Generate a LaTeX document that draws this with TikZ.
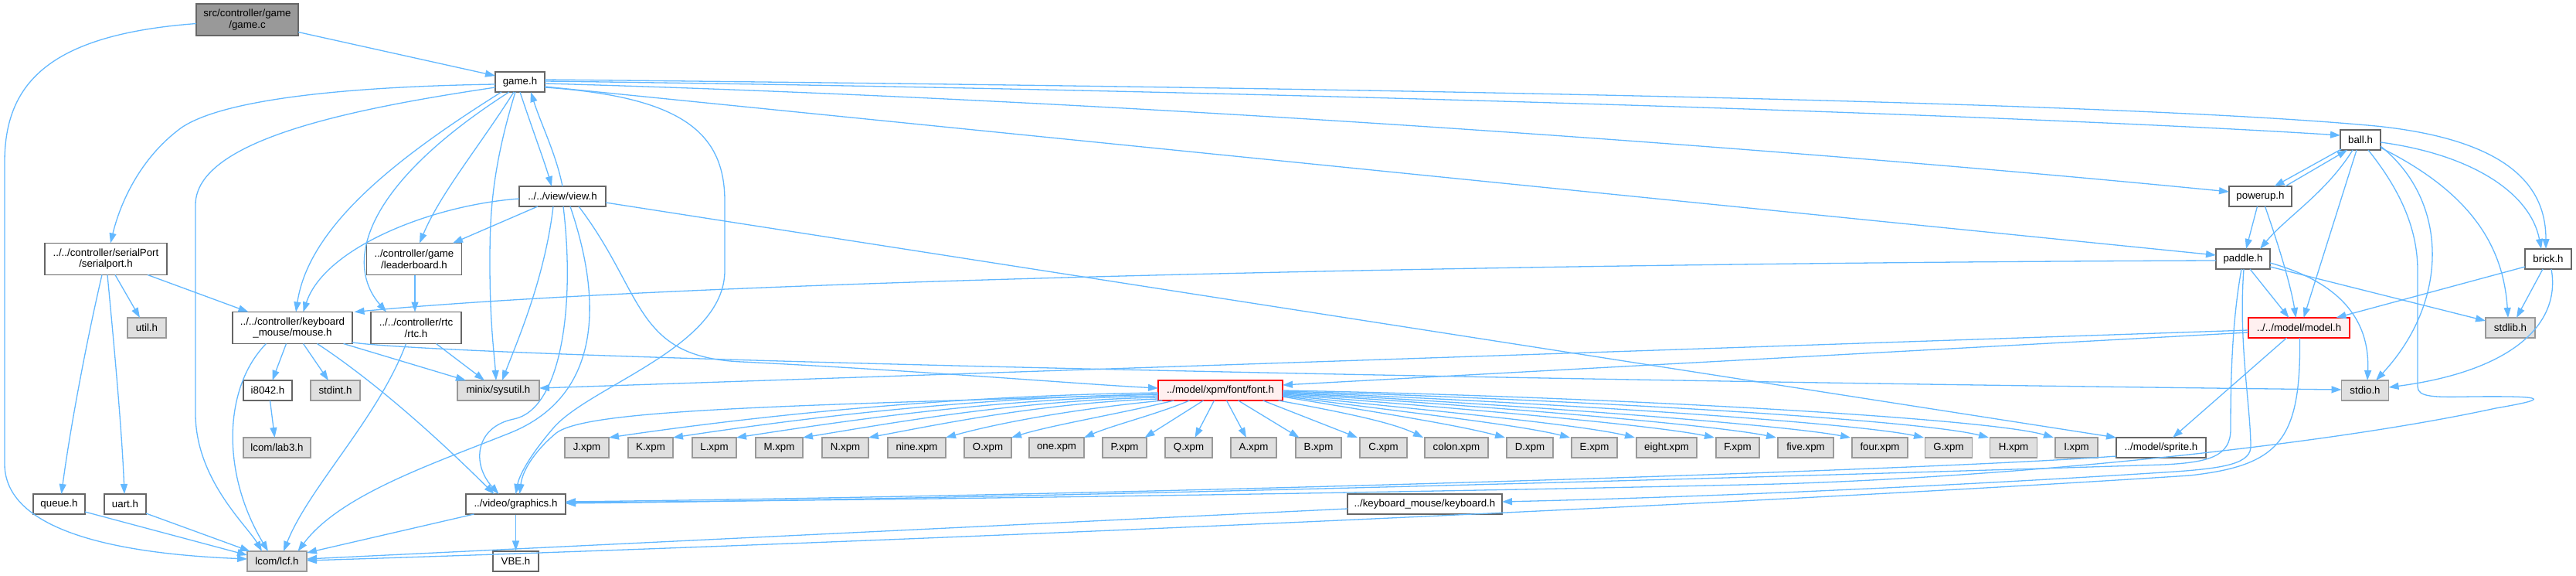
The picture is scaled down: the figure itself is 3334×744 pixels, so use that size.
\documentclass[tikz,border=0pt]{standalone}
\usepackage{fontspec}
\setmainfont{Liberation Sans}
\usetikzlibrary{arrows.meta,calc}
\definecolor{eblue}{HTML}{63B8FF}
\definecolor{bgrey}{HTML}{666666}
\definecolor{lgrey}{HTML}{999999}
\definecolor{efill}{HTML}{E0E0E0}
\definecolor{tfill}{HTML}{FFF0F0}
\newcommand\nfont{\fontsize{13.3pt}{14.5pt}\selectfont}
\tikzset{
  box/.style={draw=bgrey, fill=white, line width=1.3pt, inner sep=0pt, font=\nfont, align=center, minimum height=26pt},
  twoline/.style={minimum height=41pt},
  ext/.style={box, draw=lgrey, fill=efill},
  rootbox/.style={box, fill=lgrey},
  trunc/.style={box, draw=red, fill=tfill},
  edge/.style={draw=eblue, line width=1.3pt, -{Triangle[length=13pt,width=9pt]}},
}
\begin{document}
\begin{tikzpicture}[x=1pt,y=-1pt]
\useasboundingbox (0,0) rectangle (3334,744);
% nodes
\node[rootbox,twoline,minimum width=132pt] (gamec) at (320,25.5) {src/controller/game\\/game.c};
\node[box,minimum width=64pt] (gameh) at (673,106) {game.h};
\node[box,minimum width=112pt] (viewh) at (728,254) {../../view/view.h};
\node[box,twoline,minimum width=158pt] (serial) at (137,335) {../../controller/serialPort\\/serialport.h};
\node[box,twoline,minimum width=123pt] (leader) at (536,335) {../controller/game\\/leaderboard.h};
\node[box,twoline,minimum width=155pt] (mouse) at (378.5,424) {../../controller/keyboard\\\_mouse/mouse.h};
\node[box,twoline,minimum width=117pt] (rtc) at (538.5,424) {../../controller/rtc\\/rtc.h};
\node[ext,minimum width=50pt] (util) at (190,424) {util.h};
\node[box,minimum width=63pt] (i8042) at (346.5,505) {i8042.h};
\node[ext,minimum width=64pt] (stdint) at (434,505) {stdint.h};
\node[ext,minimum width=106pt] (sysutil) at (645,505) {minix/sysutil.h};
\node[ext,minimum width=87pt] (lab3) at (358.5,579) {lcom/lab3.h};
\node[box,minimum width=67pt] (queue) at (76.5,652) {queue.h};
\node[box,minimum width=54pt] (uart) at (162,652) {uart.h};
\node[box,minimum width=129pt] (graphics) at (667.5,652) {../video/graphics.h};
\node[ext,minimum width=77pt] (lcf) at (358.5,726) {lcom/lcf.h};
\node[box,minimum width=59pt] (vbe) at (667.5,726) {VBE.h};
\node[trunc,minimum width=161pt] (font) at (1579.5,505) {../model/xpm/font/font.h};
\node[box,minimum width=200pt] (keyboard) at (1844,652) {../keyboard\_mouse/keyboard.h};
\node[box,minimum width=116pt] (sprite) at (2797,579) {../model/sprite.h};
\node[trunc,minimum width=131pt] (model) at (2975.5,424) {../../model/model.h};
\node[ext,minimum width=64pt] (stdlib) at (3249,424) {stdlib.h};
\node[ext,minimum width=61pt] (stdio) at (3061,505) {stdio.h};
\node[box,minimum width=52pt] (ball) at (3055,181) {ball.h};
\node[box,minimum width=81pt] (powerup) at (2925.5,254) {powerup.h};
\node[box,minimum width=70pt] (paddle) at (2903,335) {paddle.h};
\node[box,minimum width=60pt] (brick) at (3298,335) {brick.h};
% xpm row
\node[ext,minimum width=57pt] (xJ) at (759.5,579) {J.xpm};
\node[ext,minimum width=58pt] (xK) at (842,579) {K.xpm};
\node[ext,minimum width=57pt] (xL) at (924.5,579) {L.xpm};
\node[ext,minimum width=61pt] (xM) at (1008.5,579) {M.xpm};
\node[ext,minimum width=60pt] (xN) at (1094,579) {N.xpm};
\node[ext,minimum width=75pt] (xnine) at (1186.5,579) {nine.xpm};
\node[ext,minimum width=61pt] (xO) at (1278.5,579) {O.xpm};
\node[ext,minimum width=71pt] (xone) at (1367.5,579) {one.xpm};
\node[ext,minimum width=57pt] (xP) at (1455.5,579) {P.xpm};
\node[ext,minimum width=61pt] (xQ) at (1538.5,579) {Q.xpm};
\node[ext,minimum width=59pt] (xA) at (1622.5,579) {A.xpm};
\node[ext,minimum width=59pt] (xB) at (1706.5,579) {B.xpm};
\node[ext,minimum width=61pt] (xC) at (1790.5,579) {C.xpm};
\node[ext,minimum width=82pt] (xcolon) at (1885,579) {colon.xpm};
\node[ext,minimum width=60pt] (xD) at (1980,579) {D.xpm};
\node[ext,minimum width=59pt] (xE) at (2063.5,579) {E.xpm};
\node[ext,minimum width=78pt] (xeight) at (2157,579) {eight.xpm};
\node[ext,minimum width=56pt] (xF) at (2249,579) {F.xpm};
\node[ext,minimum width=72pt] (xfive) at (2337,579) {five.xpm};
\node[ext,minimum width=72pt] (xfour) at (2433,579) {four.xpm};
\node[ext,minimum width=61pt] (xG) at (2522,579) {G.xpm};
\node[ext,minimum width=61pt] (xH) at (2606,579) {H.xpm};
\node[ext,minimum width=55pt] (xI) at (2687.5,579) {I.xpm};
% ---------------- edges ----------------
% game.c
\draw[edge] ($(gamec)+(66,16)$) -- ($(gameh)+(-32,-8)$);
\draw[edge] ($(gamec)+(-66,5)$) .. controls (60,45) and (6,110) .. (6,210) -- (6,600) .. controls (6,700) and (200,718) .. ($(lcf)+(-38.5,-3)$);
% game.h
\draw[edge] ($(gameh)+(-32,3)$) .. controls (450,112) and (290,128) .. (235,165) .. controls (180,205) and (155,265) .. ($(serial)+(6,-20.5)$);
\draw[edge] ($(gameh)+(-32,7)$) .. controls (460,140) and (253,180) .. (253,265) -- (253,535) .. controls (253,620) and (320,680) .. ($(lcf)+(-19.5,-13)$);
\draw[edge] ($(gameh)+(-24,13)$) .. controls (520,200) and (400,290) .. ($(mouse)+(4.5,-20.5)$);
\draw[edge] ($(gameh)+(-14,13)$) .. controls (470,240) and (445,340) .. ($(rtc)+(-38.5,-20.5)$);
\draw[edge] ($(gameh)+(-8,13)$) .. controls (620,190) and (570,250) .. ($(leader)+(7,-20.5)$);
\draw[edge] ($(gameh)+(-6,13)$) .. controls (636,220) and (634,280) .. (634,340) .. controls (634,420) and (640,460) .. ($(sysutil)+(-3,-13)$);
\draw[edge] ($(gameh)+(0,13)$) .. controls (690,170) and (705,210) .. ($(viewh)+(-14,-13)$);
\draw[edge] ($(viewh)+(0,-13)$) .. controls (720,200) and (700,160) .. ($(gameh)+(14,13)$);
\draw[edge] ($(gameh)+(32,7)$) .. controls (880,125) and (938,170) .. (938,260) -- (938,350) .. controls (938,450) and (760,500) .. (715,555) .. controls (685,590) and (672,615) .. ($(graphics)+(0,-13)$);
\draw[edge] ($(gameh)+(32,-3)$) .. controls (1600,112) and (2700,128) .. (3075,163) .. controls (3260,182) and (3295,250) .. ($(brick)+(-3,-13)$);
\draw[edge] ($(gameh)+(32,-1)$) .. controls (1600,116) and (2600,148) .. ($(ball)+(-26,-6)$);
\draw[edge] ($(gameh)+(32,2)$) .. controls (1500,130) and (2400,200) .. ($(powerup)+(-40.5,-6)$);
\draw[edge] ($(gameh)+(32,6)$) -- ($(paddle)+(-35,-5)$);
% view.h
\draw[edge] ($(viewh)+(-32,13)$) -- ($(leader)+(50,-20.5)$);
\draw[edge] ($(viewh)+(-56,3)$) .. controls (560,265) and (420,320) .. ($(mouse)+(14,-20.5)$);
\draw[edge] ($(viewh)+(-12,13)$) .. controls (705,360) and (670,440) .. ($(sysutil)+(5,-13)$);
\draw[edge] ($(viewh)+(1,13)$) .. controls (745,400) and (725,530) .. (665,542) .. controls (615,552) and (610,600) .. ($(graphics)+(-22,-13)$);
\draw[edge] ($(viewh)+(10,13)$) .. controls (790,420) and (760,520) .. (660,560) .. controls (560,600) and (440,640) .. ($(lcf)+(27,-13)$);
\draw[edge] ($(viewh)+(21,13)$) .. controls (835,380) and (820,462) .. (960,468) .. controls (1200,480) and (1400,497) .. ($(font)+(-80.5,-3)$);
\draw[edge] ($(viewh)+(56,8)$) -- ($(sprite)+(-58,-13)$);
% serialport.h
\draw[edge] ($(serial)+(12,20.5)$) -- ($(util)+(-9,-13)$);
\draw[edge] ($(serial)+(-5,20.5)$) .. controls (110,450) and (90,560) .. ($(queue)+(3,-13)$);
\draw[edge] ($(serial)+(2,20.5)$) .. controls (148,450) and (158,560) .. ($(uart)+(-1,-13)$);
\draw[edge] ($(serial)+(54,20.5)$) -- ($(mouse)+(-57,-20.5)$);
% leaderboard
\draw[edge] ($(leader)+(1,20.5)$) -- ($(rtc)+(-1.5,-20.5)$);
% mouse.h
\draw[edge] ($(mouse)+(-8,20.5)$) -- ($(i8042)+(6,-13)$);
\draw[edge] ($(mouse)+(14,20.5)$) -- ($(stdint)+(-9,-13)$);
\draw[edge] ($(mouse)+(66,20.5)$) -- ($(sysutil)+(-42,-13)$);
\draw[edge] ($(mouse)+(-34,20.5)$) .. controls (290,500) and (285,610) .. ($(lcf)+(-11.5,-13)$);
\draw[edge] ($(mouse)+(32,20.5)$) .. controls (480,490) and (560,560) .. ($(graphics)+(-28,-13)$);
\draw[edge] ($(mouse)+(77.5,19)$) .. controls (600,462) and (1800,490) .. ($(stdio)+(-30.5,-1)$);
% rtc.h
\draw[edge] ($(rtc)+(26,20.5)$) -- ($(sysutil)+(-18,-13)$);
\draw[edge] ($(rtc)+(-13,20.5)$) .. controls (490,540) and (400,630) .. ($(lcf)+(8.5,-13)$);
% misc
\draw[edge] ($(i8042)+(3,13)$) -- ($(lab3)+(-3,-13)$);
\draw[edge] ($(queue)+(33.5,10)$) -- ($(lcf)+(-38.5,-8)$);
\draw[edge] ($(uart)+(27,12)$) -- ($(lcf)+(-35,-13)$);
\draw[edge] ($(graphics)+(-54,13)$) -- ($(lcf)+(38.5,-11)$);
\draw[edge] (graphics.south) -- (vbe.north);
\draw[edge] ($(keyboard)+(-100,6)$) -- ($(lcf)+(38.5,-3)$);
% font.h
\draw[edge] ($(font)+(-80.5,5)$) .. controls (1000,525) and (760,530) .. (720,560) .. controls (690,585) and (676,610) .. ($(graphics)+(5,-13)$);
\draw[edge] ($(font)+(-80.5,3)$) .. controls (1215,512) and (965,540) .. ($(xJ)+(28.5,-13)$);
\draw[edge] ($(font)+(-80.5,5)$) .. controls (1250,514) and (1030,542) .. ($(xK)+(29,-13)$);
\draw[edge] ($(font)+(-80.5,7)$) .. controls (1280,516) and (1090,545) .. ($(xL)+(28.5,-13)$);
\draw[edge] ($(font)+(-80.5,9)$) .. controls (1315,518) and (1155,547) .. ($(xM)+(30.5,-13)$);
\draw[edge] ($(font)+(-80.5,11)$) .. controls (1350,521) and (1220,548) .. ($(xN)+(30,-13)$);
\draw[edge] ($(font)+(-75,13)$) .. controls (1400,528) and (1300,545) .. ($(xnine)+(37.5,-13)$);
\draw[edge] ($(font)+(-60,13)$) .. controls (1450,535) and (1360,550) .. ($(xO)+(30.5,-13)$);
\draw[edge] ($(font)+(-40,13)$) .. controls (1500,535) and (1440,550) .. ($(xone)+(35.5,-13)$);
\draw[edge] ($(font)+(-22,13)$) -- ($(xP)+(26,-13)$);
\draw[edge] ($(font)+(-8,13)$) -- ($(xQ)+(8,-13)$);
\draw[edge] ($(font)+(8,13)$) -- ($(xA)+(-9.5,-13)$);
\draw[edge] ($(font)+(23,13)$) -- ($(xB)+(-25,-13)$);
\draw[edge] ($(font)+(55,13)$) -- ($(xC)+(-33.5,-13)$);
\draw[edge] ($(font)+(75,13)$) .. controls (1720,530) and (1800,545) .. ($(xcolon)+(-43,-13)$);
\draw[edge] ($(font)+(80.5,8)$) .. controls (1760,530) and (1880,548) .. ($(xD)+(-32,-13)$);
\draw[edge] ($(font)+(80.5,7)$) .. controls (1790,530) and (1960,548) .. ($(xE)+(-31.5,-13)$);
\draw[edge] ($(font)+(80.5,6)$) .. controls (1820,528) and (2040,548) .. ($(xeight)+(-41,-13)$);
\draw[edge] ($(font)+(80.5,5)$) .. controls (1850,525) and (2130,548) .. ($(xF)+(-30,-13)$);
\draw[edge] ($(font)+(80.5,4)$) .. controls (1880,522) and (2210,548) .. ($(xfive)+(-38,-13)$);
\draw[edge] ($(font)+(80.5,3)$) .. controls (1910,520) and (2300,548) .. ($(xfour)+(-38,-13)$);
\draw[edge] ($(font)+(80.5,2)$) .. controls (1950,518) and (2390,545) .. ($(xG)+(-32,-13)$);
\draw[edge] ($(font)+(80.5,1)$) .. controls (2000,515) and (2480,542) .. ($(xH)+(-32,-13)$);
\draw[edge] ($(font)+(80.5,0)$) .. controls (2050,512) and (2570,540) .. ($(xI)+(-29.5,-13)$);
% model.h
\draw[edge] ($(model)+(-16,13)$) -- ($(sprite)+(15,-13)$);
\draw[edge] ($(model)+(-65.5,3)$) -- ($(sysutil)+(53,-3)$);
\draw[edge] ($(model)+(-65.5,6)$) -- ($(font)+(80.5,-7)$);
\draw[edge] ($(model)+(1,13)$) .. controls (2978,570) and (2950,602) .. (2834,615) .. controls (2300,650) and (1200,700) .. ($(lcf)+(38.5,-1)$);
% ball.h
\draw[edge] ($(ball)+(-25,12)$) -- ($(powerup)+(18,-13)$);
\draw[edge] ($(powerup)+(32,-13)$) -- ($(ball)+(-17,13)$);
\draw[edge] ($(ball)+(-10,13)$) .. controls (3010,250) and (2960,280) .. ($(paddle)+(22,-13)$);
\draw[edge] ($(ball)+(-5,13)$) -- ($(model)+(6,-13)$);
\draw[edge] ($(ball)+(26,8)$) .. controls (3170,260) and (3170,390) .. ($(stdio)+(14,-13)$);
\draw[edge] ($(ball)+(26,10)$) .. controls (3200,250) and (3240,320) .. ($(stdlib)+(-3,-13)$);
\draw[edge] ($(ball)+(26,3)$) .. controls (3200,200) and (3275,250) .. ($(brick)+(-9,-13)$);
\draw[edge] ($(ball)+(10,13)$) .. controls (3110,250) and (3129,300) .. (3129,350) -- (3129,500) .. controls (3129,514) and (3150,514) .. (3200,513) .. controls (3300,512) and (3300,516) .. (3230,528) .. controls (3000,578) and (2600,617) .. (2300,626) .. controls (1700,640) and (1000,648) .. ($(graphics)+(64.5,-2)$);
% brick.h
\draw[edge] ($(brick)+(-30,10)$) -- ($(model)+(48,-13)$);
\draw[edge] ($(brick)+(-7,13)$) -- ($(stdlib)+(8,-13)$);
\draw[edge] ($(brick)+(4,13)$) .. controls (3315,420) and (3250,480) .. ($(stdio)+(30.5,-4)$);
% powerup.h
\draw[edge] ($(powerup)+(-4,13)$) -- ($(paddle)+(4,-13)$);
\draw[edge] ($(powerup)+(6,13)$) .. controls (2950,320) and (2965,370) .. ($(model)+(-4,-13)$);
% paddle.h
\draw[edge] ($(paddle)+(-35,2)$) .. controls (2000,340) and (900,362) .. ($(mouse)+(80,-20.5)$);
\draw[edge] ($(paddle)+(9,13)$) -- ($(model)+(-13,-13)$);
\draw[edge] ($(paddle)+(35,10)$) -- ($(stdlib)+(-32,-9)$);
\draw[edge] ($(paddle)+(35,5)$) .. controls (3010,360) and (3068,400) .. ($(stdio)+(3,-13)$);
\draw[edge] ($(paddle)+(-2,13)$) .. controls (2888,420) and (2887,500) .. (2887,555) .. controls (2887,590) and (2860,598) .. (2800,601) .. controls (2200,620) and (1300,645) .. ($(graphics)+(64.5,-1)$);
\draw[edge] ($(paddle)+(1,13)$) .. controls (2897,440) and (2912,520) .. (2913,575) .. controls (2915,600) and (2880,606) .. (2800,611) .. controls (2500,630) and (2200,643) .. ($(keyboard)+(100,-3)$);
% sprite.h
\draw[edge] ($(sprite)+(-58,11)$) .. controls (2500,608) and (1500,640) .. ($(graphics)+(64.5,-3)$);
\end{tikzpicture}
\end{document}
